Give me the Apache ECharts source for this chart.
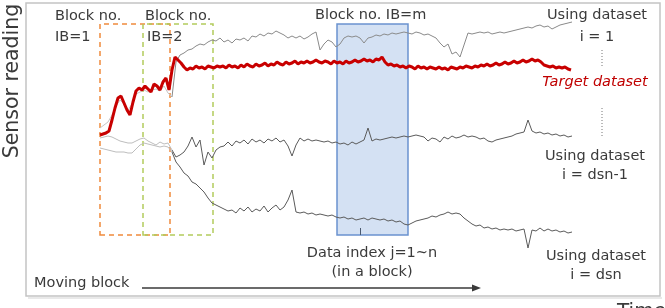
<!DOCTYPE html>
<html>
<head>
<meta charset="utf-8">
<style>html,body{margin:0;padding:0;background:#fff}#chart{width:665px;height:308px}</style>
<script src="https://cdn.jsdelivr.net/npm/echarts@6.0.0/dist/echarts.min.js"></script>
</head>
<body>
<div id="chart"></div>
<script>
// time index starts at 0, readings are in arbitrary sensor units
const targetStep = 3
const target = [
    161,162,163,165,176,188,198,200,193,186,181,194,205,208,206,210,207,204,212,210,
    206,214,218,206,226,239,236,233,229,226,228,227,230,228,229,227,230,229,228,230,229,
    230,228,231,229,230,228,231,229,232,230, 229,232,230,231,233,230,232,231,234,232,
    231,234,232,233,235,232,234,233,235,233, 234,236,234,233,235,234,232,235,233,234,
    232,235,233,234,236,234,235,237,235,236, 234,237,236,239,234,231,232,230,231,229,
    230,228,230,229,227,230,228,229,227,229, 228,227,229,227,228,226,229,228,227,229,
    228,230,229,228,230,229,231,230,232,230, 231,233,231,232,234,232,233,235,233,234,
    236,234,235,237,235,236,234,231,230,229, 230,228,229,228,229,227,226
]

const otherStep = 4
const dataset1 = [
    168,171,174,181,190,196,192,186,192,202, 204,206,204,206,207,205,210,203,199,234,
    241,243,246,247,250,252,251,254,256,255, 258,254,256,253,257,256,258,255,260,259,
    262,260,263,262,265,263,261,258,260,258, 260,257,259,262,264,246,252,256,254,249,
    252,258,260,259,260,258,253,258,259,261, 260,262,261,263,262,263,264,263,262,264,
    263,261,262,260,258,253,249,252,242,244, 239,251,263,262,263,264,263,264,262,263,
    264,263,264,265,266,267,268,269,268,270, 271,269,270,267,269,271,272,273,274
]
const datasetDsn1 = [
    158,159,160,159,157,155,154,153,153,155, 157,158,155,153,151,154,152,153,146,139,
    141,144,150,159,149,156,131,144,138,146, 149,150,154,150,155,153,156,152,157,154,
    156,153,157,155,158,154,156,150,140,151, 158,155,157,155,156,155,154,155,153,154,
    152,153,151,154,152,154,156,168,155,157, 156,157,158,159,158,159,160,159,160,161,
    160,159,155,158,157,154,159,157,160,158, 159,161,159,160,159,157,158,155,154,156,
    157,158,159,160,162,163,164,176,165,163, 164,162,163,161,162,160,161,159,160
]
const datasetDsn = [
    148,147,146,145,144,144,144,143,143,147, 151,153,152,151,150,149,150,149,144,134,
    129,123,120,114,112,108,104,98,93,91, 89,87,85,86,83,88,85,89,84,87,
    85,90,84,88,91,86,89,96,106,84, 83,84,82,83,81,82,81,80,81,79,
    78,79,77,78,76,77,78,76,78,77, 76,77,75,76,74,75,72,71,73,75,
    76,77,78,80,79,81,82,84,82,83, 82,78,75,72,70,71,68,69,67,68,
    66,67,66,67,65,66,67,48,66,65, 68,65,67,65,66,64,65,63,64
]
// time where the datasets leave the faint lead-in part
const leadEnd = 72

// blocks: [start, end] in time, shared reading span
const block1 = [0, 70]
const block2 = [43, 113]
const blockM = [237, 308]
const blockSpan = [61, 272]
const indexMark = 260

const toPairs = (vals, step) => vals.map((v, i) => [i * step, v])
const lead = (vals, step) => toPairs(vals, step).filter(p => p[0] <= leadEnd)
const rest = (vals, step) => toPairs(vals, step).filter(p => p[0] >= leadEnd)

const textColor = '#3a3a3a'
const font = '14.5px "DejaVu Sans"'
const txt = (text, x, y, align, extra, rot) => ({
    type: 'text', x: x, y: y, z: 20, rotation: rot || 0,
    style: Object.assign({ text: text, fill: textColor, font: font, align: align || 'left', verticalAlign: 'middle' }, extra || {})
})
const thin = (data, color, z) => ({
    type: 'line', z: z || 3, showSymbol: false, silent: true, data: data,
    lineStyle: { width: 1, color: color }
})

const chart = echarts.init(document.getElementById('chart'))
chart.setOption({
    animation: false,
    grid: { left: 26, right: 5, top: 3, bottom: 12 },
    xAxis: { type: 'value', min: -74, max: 560, show: false },
    yAxis: { type: 'value', min: 0, max: 293, show: false },
    series: [
        {
            type: 'line', z: 1, data: [], showSymbol: false,
            markArea: {
                silent: true,
                label: { show: false },
                data: [
                    [{ xAxis: block1[0], yAxis: blockSpan[0], itemStyle: { color: 'rgba(0,0,0,0)', borderColor: '#f08a3c', borderWidth: 1.5, borderType: [5, 4] } },
                     { xAxis: block1[1], yAxis: blockSpan[1] }],
                    [{ xAxis: block2[0], yAxis: blockSpan[0], itemStyle: { color: 'rgba(0,0,0,0)', borderColor: '#b2cc5c', borderWidth: 1.5, borderType: [5, 4] } },
                     { xAxis: block2[1], yAxis: blockSpan[1] }],
                    [{ xAxis: blockM[0], yAxis: blockSpan[0], itemStyle: { color: 'rgba(170,196,232,0.5)', borderColor: '#6b93cf', borderWidth: 1.5 } },
                     { xAxis: blockM[1], yAxis: blockSpan[1] }]
                ]
            },
            markLine: {
                silent: true, symbol: 'none', label: { show: false },
                lineStyle: { color: '#4a5a70', type: 'solid', width: 1 },
                data: [[{ coord: [indexMark, blockSpan[0]] }, { coord: [indexMark, blockSpan[0] + 7] }]]
            }
        },
        thin(lead(dataset1, otherStep), '#c4c4c4', 2),
        thin(rest(dataset1, otherStep), '#8a8a8a'),
        thin(lead(datasetDsn1, otherStep), '#bdbdbd', 2),
        thin(rest(datasetDsn1, otherStep), '#5a5a5a'),
        thin(lead(datasetDsn, otherStep), '#bdbdbd', 2),
        thin(rest(datasetDsn, otherStep), '#5a5a5a'),
        { type: 'line', z: 5, showSymbol: false, silent: true, data: toPairs(target, targetStep), lineStyle: { width: 3, color: '#c80000' } }
    ],
    graphic: [
        { type: 'rect', z: 0, shape: { x: 26, y: 3, width: 634, height: 293 }, style: { fill: 'none', stroke: '#c4c4c4', lineWidth: 1.5 } },
        { type: 'line', z: 0, shape: { x1: 28, y1: 298, x2: 662, y2: 298 }, style: { stroke: '#e2e2e2', lineWidth: 1.5 } },
        txt('Sensor reading', 13, 81, 'center', { font: '20.5px "DejaVu Sans"' }, Math.PI / 2),
        txt('Block no.', 55, 16), txt('IB=1', 55, 37),
        txt('Block no.', 145, 16), txt('IB=2', 147, 37),
        txt('Block no. IB=m', 315, 15),
        txt('Using dataset', 597, 15, 'center'), txt('i = 1', 597, 37, 'center'),
        txt('Target dataset', 595, 82, 'center', { fill: '#c00000', font: 'italic 14.5px "DejaVu Sans"' }),
        txt('Using dataset', 595, 156, 'center'), txt('i = dsn-1', 595, 175, 'center'),
        txt('Using dataset', 596, 256, 'center'), txt('i = dsn', 596, 275, 'center'),
        txt('Data index j=1~n', 372, 253, 'center'), txt('(in a block)', 372, 272, 'center'),
        txt('Moving block', 34, 283),
        txt('Time', 617, 312, 'left', { font: '20px "DejaVu Sans"' }),
        { type: 'line', z: 20, shape: { x1: 142, y1: 288, x2: 474, y2: 288 }, style: { stroke: textColor, lineWidth: 1.5 } },
        { type: 'polygon', z: 20, shape: { points: [[472, 284.5], [481, 288], [472, 291.5]] }, style: { fill: textColor } },
        { type: 'line', z: 20, shape: { x1: 602, y1: 50, x2: 602, y2: 66 }, style: { stroke: '#777', lineWidth: 1, lineDash: [1, 2] } },
        { type: 'line', z: 20, shape: { x1: 602, y1: 108, x2: 602, y2: 136 }, style: { stroke: '#777', lineWidth: 1, lineDash: [1, 2] } }
    ]
})
</script>
</body>
</html>
